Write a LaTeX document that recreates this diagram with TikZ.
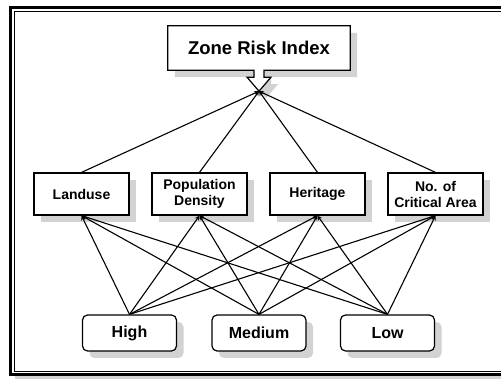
\documentclass[tikz,border=0pt]{standalone}
\usepackage{fontspec}
\setmainfont{Liberation Sans}
\usetikzlibrary{positioning,calc,shadows,backgrounds}

\begin{document}
\begin{tikzpicture}[x=1pt,y=-1pt,on grid,
    crit/.style={draw,line width=1.2pt,fill=white,minimum width=95pt,minimum height=42pt,
      inner sep=1pt,align=center,font=\fontsize{14}{16}\selectfont\bfseries,
      drop shadow={shadow xshift=7pt,shadow yshift=-7pt,opacity=1,fill=gray!35}},
    level/.style={crit,rounded corners=5pt,minimum width=94pt,minimum height=36pt,
      font=\fontsize{16}{19}\selectfont\bfseries},
    goal/.style={minimum width=182pt,minimum height=44pt,inner sep=1pt,
      font=\fontsize{18.5}{22}\selectfont\bfseries},
    link/.style={-stealth,line width=1.1pt}]
      \useasboundingbox (0,0) rectangle (501,379);
      \clip (0,0) rectangle (501,379);

      % frame
      \begin{scope}[on background layer]
        \fill[gray!35] (15,12) rectangle (525,380);
        \fill[white] (10.5,7.5) rectangle (520,374.5);
      \end{scope}
      \draw[line width=2.5pt] (10.5,7.5) rectangle (520,374.5);
      \draw[line width=0.8pt] (14.5,11) rectangle (516,371);

      % goal with block arrow
      \node[goal] (zri) at (259,48) {Zone Risk Index};
      \coordinate (tip) at ($(zri.south)+(0,21)$);
      \begin{scope}[on background layer]
        \fill[gray!35,transform canvas={shift={(7,7)}}] (zri.north west) -- (zri.north east)
          -- (zri.south east) -- ($(zri.south)+(5,0)$) -- ++(0,7) -- ++(7,0) -- (tip)
          -- ($(zri.south)+(-12,7)$) -- ++(7,0) -- ++(0,-7) -- (zri.south west) -- cycle;
      \end{scope}
      \draw[line width=1.2pt,fill=white] (zri.north west) -- (zri.north east)
        -- (zri.south east) -- ($(zri.south)+(5,0)$) -- ++(0,7) -- ++(7,0) -- (tip)
        -- ($(zri.south)+(-12,7)$) -- ++(7,0) -- ++(0,-7) -- (zri.south west) -- cycle;
      \node[goal] at (zri) {Zone Risk Index};

      % criteria
      \node[crit] (landuse) [below left=146pt and 177.5pt of zri] {Landuse};
      \node[crit] (popden) [right=118pt of landuse] {Population\\Density};
      \node[crit] (heritage) [right=118pt of popden] {Heritage};
      \node[crit] (critarea) [right=118pt of heritage] {No. of\\Critical Area};

      % levels
      \node[level] (medium) [below=285pt of zri] {Medium};
      \node[level] (high) [left=129.5pt of medium] {High};
      \node[level] (low) [right=128.5pt of medium] {Low};

      \draw[link] (landuse.north) to (tip);
      \draw[link] (popden.north) to (tip);
      \draw[link] (heritage.north) to (tip);
      \draw[link] (critarea.north) to (tip);

      \draw[link] (high.north) to (landuse.south);
      \draw[link] (high.north) to (popden.south);
      \draw[link] (high.north) to (heritage.south);
      \draw[link] (high.north) to (critarea.south);

      \draw[link] (medium.north) to (landuse.south);
      \draw[link] (medium.north) to (popden.south);
      \draw[link] (medium.north) to (heritage.south);
      \draw[link] (medium.north) to (critarea.south);

      \draw[link] (low.north) to (landuse.south);
      \draw[link] (low.north) to (popden.south);
      \draw[link] (low.north) to (heritage.south);
      \draw[link] (low.north) to (critarea.south);
\end{tikzpicture}
\end{document}
